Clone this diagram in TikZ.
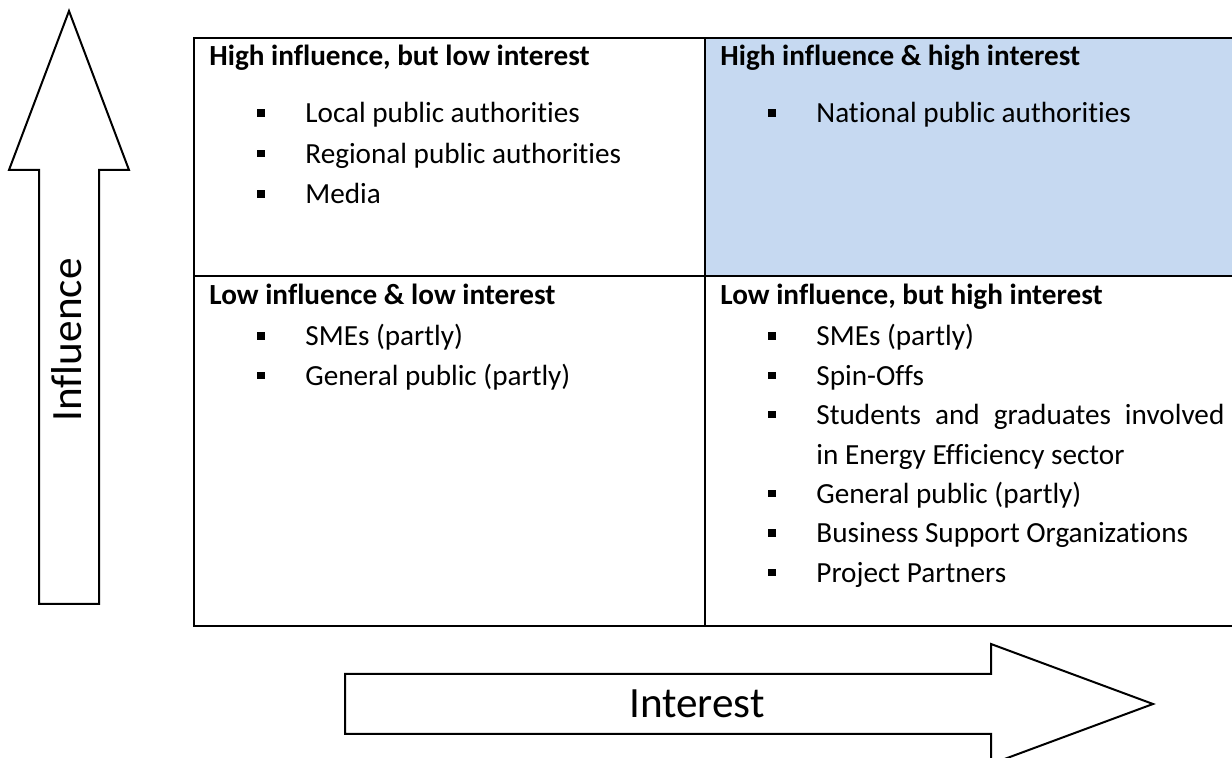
\documentclass[tikz,border=0pt]{standalone}
\usepackage{fontspec}
\setmainfont{Carlito}[Ligatures=NoCommon]
\usepackage{tikz}
\definecolor{cellblue}{RGB}{198,217,241}

\begin{document}
\begin{tikzpicture}[x=0.5pt, y=-0.5pt]
    % Styles
    \tikzstyle{cell} = [rectangle, draw=black, line width=1pt, inner sep=0pt, anchor=north west]
    \tikzstyle{title} = [anchor=base west, inner sep=0pt, font=\bfseries\fontsize{14.6}{17}\selectfont]
    \tikzstyle{entry} = [anchor=base west, inner sep=0pt, font=\fontsize{14.6}{17}\selectfont]
    \tikzstyle{sqbullet} = [rectangle, fill=black, minimum size=3.6pt, inner sep=0pt]
    \tikzstyle{fat} = [draw=black, line width=1pt, fill=white, line join=miter]
    \tikzstyle{axis} = [inner sep=0pt, font=\fontsize{21.6}{25}\selectfont]

    \useasboundingbox (0,0) rectangle (1232,758);

    % Quadrants
    \node[cell, fill=cellblue, minimum width=265pt, minimum height=119pt] (HH) at (704,37) {};
    \node[cell, minimum width=255.5pt, minimum height=119pt] (HL) at (193,37) {};
    \node[cell, minimum width=255.5pt, minimum height=175pt] (LL) at (193,275) {};
    \node[cell, minimum width=265pt, minimum height=175pt] (LH) at (704,275) {};

    % Headings
    \node[title] (tHL) at (209,66) {High influence, but low interest};
    \node[title] (tHH) at (720,66) {High influence \& high interest};
    \node[title] (tLL) at (209,305) {Low influence \& low interest};
    \node[title] (tLH) at (720,305) {Low influence, but high interest};

    % Items
    \foreach \txt [count=\i from 0] in {Local public authorities, Regional public authorities, Media} {
        \node[sqbullet] (bHL\i) at (261, 113+40.5*\i) {};
        \node[entry] (iHL\i) at (305, 123+40.5*\i) {\txt};
    }
    \node[sqbullet] (bHH0) at (772, 113) {};
    \node[entry] (iHH0) at (816, 123) {National public authorities};

    \foreach \txt [count=\i from 0] in {SMEs (partly), General public (partly)} {
        \node[sqbullet] (bLL\i) at (261, 336+39.4*\i) {};
        \node[entry] (iLL\i) at (305, 346+39.4*\i) {\txt};
    }
    \foreach \txt [count=\i from 0] in {SMEs (partly), Spin-Offs,
        \makebox[204pt][s]{Students and graduates involved},
        in Energy Efficiency sector, General public (partly),
        Business Support Organizations, Project Partners} {
        \node[entry] (iLH\i) at (816, 346+39.4*\i) {\txt};
    }
    \foreach \i in {0,1,2,4,5,6} {
        \node[sqbullet] (bLH\i) at (772, 336+39.4*\i) {};
    }

    % Axes
    \draw[fat] (39,604) -- (39,170) -- (9,170) -- (69,11) -- (129,170) -- (99,170) -- (99,604) -- cycle;
    \node[axis, rotate=90] (influence) at (67,340) {Influence};
    \draw[fat] (345,674) -- (991,674) -- (991,644) -- (1153,704) -- (991,764) -- (991,734) -- (345,734) -- cycle;
    \node[axis] (interest) at (697,704) {Interest};
\end{tikzpicture}
\end{document}
